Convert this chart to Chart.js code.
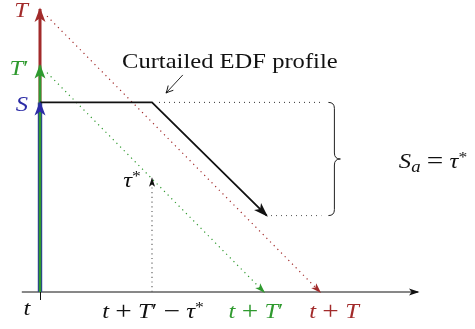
<!DOCTYPE html>
<html>
<head>
<meta charset="utf-8">
<script src="https://cdn.jsdelivr.net/npm/chart.js@4/dist/chart.umd.min.js"></script>
<style>
  html, body { margin: 0; padding: 0; background: #fff; }
  canvas { display: block; }
</style>
</head>
<body>
<canvas id="c" width="475" height="329"></canvas>
<script>
// ---- Quantities of the scheduling diagram (time / slack units) ----
const horizonT = 10;        // T
const horizonTp = 8;        // T'
const slackS = 6.7;         // S
const tauStar = 4;          // tau*

// Curtailed EDF profile: flat at S, then falling with slope -1
const profileX = [0, 4, 8.1];
const profileY = [slackS, slackS, slackS - tauStar];

// Deadline diagonals (start just off the vertical axis)
const redDiagX = [0.25, horizonT];
const redDiagY = [horizonT - 0.25, 0];
const greenDiagX = [0.25, horizonTp];
const greenDiagY = [horizonTp - 0.25, 0];

// Dotted guides bounding S_a
const guideTopX = [4.25, 10.05];
const guideBotX = [8.25, 10.05];

// tau* marker placed at t + T' - tau*
const tauX = [horizonTp - tauStar, horizonTp - tauStar];
const tauY = [0, tauStar];

// Time axis extent
const axisX = [-0.65, 13.5];

// Callout arrow for the profile label
const calloutX = [5.1, 4.5];
const calloutY = [7.67, 7.03];

const RED = '#a22b2b', GREEN = '#2f9a2f', BLUE = '#2b2ba6', BLACK = '#111';

const pts = (xs, ys) => xs.map((x, i) => ({ x, y: ys[i] }));
const line = (data, color, width, extra) => Object.assign({
  data, borderColor: color, backgroundColor: color, borderWidth: width,
  showLine: true, pointRadius: 0, pointHoverRadius: 0, fill: false,
  tension: 0, clip: false
}, extra || {});

// listed bottom-most first; Chart.js paints the first dataset on top, so reverse
const layers = [
  line(pts(axisX, [0, 0]), BLACK, 1, { arrow: { len: 9, wid: 7, color: BLACK } }),
  line(pts(redDiagX, redDiagY), RED, 1.2, { borderDash: [1.2, 4], arrow: { len: 9, wid: 7, color: RED } }),
  line(pts(greenDiagX, greenDiagY), GREEN, 1.2, { borderDash: [1.2, 4], arrow: { len: 9, wid: 7, color: GREEN } }),
  line(pts(guideTopX, [slackS, slackS]), '#333', 1, { borderDash: [1, 4] }),
  line(pts(guideBotX, [slackS - tauStar, slackS - tauStar]), '#555', 1, { borderDash: [1, 4] }),
  line(pts(tauX, tauY), '#666', 1.2, { borderDash: [1.2, 3.5], arrow: { len: 8, wid: 6, color: BLACK } }),
  line(pts([0, 0], [0, horizonT]), RED, 3, { arrow: { len: 13, wid: 11, color: RED } }),
  line(pts([0, 0], [0, slackS]), BLUE, 4.4, { arrow: { len: 13, wid: 11, color: BLUE } }),
  line(pts([0, 0], [0, horizonTp]), GREEN, 2.6, { arrow: { len: 13, wid: 11, color: GREEN } }),
  line(pts(profileX, profileY), BLACK, 1.8, { arrow: { len: 13, wid: 10, color: BLACK } }),
  line(pts(calloutX, calloutY), BLACK, 0.9, { arrow: { len: 7, wid: 7, color: BLACK, open: true } })
];
const datasets = layers.slice().reverse();

// pixel mapping: 28 px per unit horizontally, 28.3 px per unit vertically
const W = 475, H = 329, ox = 40, oy = 292, kx = 28, ky = 28.3;

function head(ctx, x, y, ang, a) {
  ctx.save();
  ctx.translate(x, y);
  ctx.rotate(ang);
  ctx.beginPath();
  if (a.open) {
    ctx.moveTo(-a.len, a.wid / 2);
    ctx.quadraticCurveTo(-a.len * 0.35, a.wid * 0.12, 0, 0);
    ctx.quadraticCurveTo(-a.len * 0.35, -a.wid * 0.12, -a.len, -a.wid / 2);
    ctx.strokeStyle = a.color; ctx.lineWidth = 0.9; ctx.stroke();
  } else {
    ctx.moveTo(1.5, 0);
    ctx.lineTo(-a.len, a.wid / 2);
    ctx.lineTo(-a.len * 0.72, 0);
    ctx.lineTo(-a.len, -a.wid / 2);
    ctx.closePath();
    ctx.fillStyle = a.color; ctx.fill();
  }
  ctx.restore();
}

const FAM = '"Liberation Serif", "DejaVu Serif", serif';
const SX = 1.17;            // horizontal widening of the serif face
function fontFor(kind, size) {
  if (kind === 'i') return `italic ${size}px ${FAM}`;
  if (kind === 'sup') return `${Math.round(size * 0.72)}px ${FAM}`;
  if (kind === 'sub') return `italic ${Math.round(size * 0.75)}px ${FAM}`;
  if (kind === 'op') return `${Math.round(size * 1.2)}px ${FAM}`;
  return `${size}px ${FAM}`;
}
// runs: [text, kind]; kind 'op' is a binary operator with math spacing
function drawMath(ctx, runs, cx, base, color, size, align) {
  const gap = size * 0.3;
  let total = 0;
  const widths = runs.map(([t, k]) => {
    ctx.font = fontFor(k, size);
    let w = ctx.measureText(t).width * SX;
    if (k === 'op') w += 2 * gap;
    total += w;
    return w;
  });
  let x = align === 'left' ? cx : cx - total / 2;
  ctx.fillStyle = color;
  ctx.textBaseline = 'alphabetic';
  ctx.textAlign = 'left';
  runs.forEach(([t, k], i) => {
    ctx.font = fontFor(k, size);
    let dy = 0;
    if (k === 'sup') dy = -size * 0.3;
    if (k === 'sub') dy = size * 0.2;
    if (k === 'op') dy = size * 0.06;
    ctx.save();
    ctx.translate(x + (k === 'op' ? gap : 0), base + dy);
    ctx.scale(SX, 1);
    ctx.fillText(t, 0, 0);
    ctx.restore();
    x += widths[i];
  });
}

const decor = {
  id: 'decor',
  afterDatasetsDraw(chart) {
    const ctx = chart.ctx;
    const xs = chart.scales.x, ys = chart.scales.y;
    // arrowheads at the end of each arrowed polyline
    chart.data.datasets.slice().reverse().forEach((ds) => {
      if (!ds.arrow) return;
      const idx = chart.data.datasets.indexOf(ds);
      const el = chart.getDatasetMeta(idx).data;
      const p1 = el[el.length - 1], p0 = el[el.length - 2];
      head(ctx, p1.x, p1.y, Math.atan2(p1.y - p0.y, p1.x - p0.x), ds.arrow);
    });
    // tick at t
    const tx = xs.getPixelForValue(0), ty = ys.getPixelForValue(0);
    ctx.save();
    ctx.strokeStyle = BLACK; ctx.lineWidth = 1;
    ctx.beginPath(); ctx.moveTo(tx + 0.5, ty); ctx.lineTo(tx + 0.5, ty + 8); ctx.stroke();

    // brace spanning S_a
    const bx = xs.getPixelForValue(10.3);
    const y1 = ys.getPixelForValue(slackS), y2 = ys.getPixelForValue(slackS - tauStar);
    const m = (y1 + y2) / 2, a = 12;
    ctx.beginPath();
    ctx.moveTo(bx, y1);
    ctx.quadraticCurveTo(bx + a / 2, y1, bx + a / 2, y1 + a / 2);
    ctx.lineTo(bx + a / 2, m - a / 2);
    ctx.quadraticCurveTo(bx + a / 2, m, bx + a, m);
    ctx.quadraticCurveTo(bx + a / 2, m, bx + a / 2, m + a / 2);
    ctx.lineTo(bx + a / 2, y2 - a / 2);
    ctx.quadraticCurveTo(bx + a / 2, y2, bx, y2);
    ctx.lineWidth = 1; ctx.strokeStyle = '#222'; ctx.stroke();
    ctx.restore();

    // labels
    const fs = 21;
    drawMath(ctx, [['T', 'i']], 21, 17, RED, fs);
    drawMath(ctx, [['T', 'i'], ['\u2032', 'r']], 19, 75, GREEN, fs);
    drawMath(ctx, [['S', 'i']], 22, 111, BLUE, fs);
    drawMath(ctx, [['\u03C4', 'i'], ['*', 'sup']], 132, 187, BLACK, fs);
    drawMath(ctx, [['t', 'i']], 27, 315, BLACK, fs);
    drawMath(ctx, [['t', 'i'], ['+', 'op'], ['T', 'i'], ['\u2032', 'r'], ['\u2212', 'op'], ['\u03C4', 'i'], ['*', 'sup']], 153, 318, BLACK, fs);
    drawMath(ctx, [['t', 'i'], ['+', 'op'], ['T', 'i'], ['\u2032', 'r']], 256, 318, GREEN, fs);
    drawMath(ctx, [['t', 'i'], ['+', 'op'], ['T', 'i']], 334, 318, RED, fs);
    drawMath(ctx, [['S', 'i'], ['a', 'sub'], ['=', 'op'], ['\u03C4', 'i'], ['*', 'sup']], 433, 168, BLACK, fs);
    drawMath(ctx, [['Curtailed EDF profile', 'r']], 122, 68, BLACK, fs, 'left');
  }
};

new Chart(document.getElementById('c'), {
  type: 'scatter',
  data: { datasets },
  options: {
    responsive: false,
    animation: false,
    devicePixelRatio: 1,
    layout: { padding: 0 },
    plugins: { legend: { display: false }, tooltip: { enabled: false } },
    events: [],
    scales: {
      x: { type: 'linear', display: false, min: -ox / kx, max: (W - ox) / kx },
      y: { type: 'linear', display: false, min: -(H - oy) / ky, max: oy / ky }
    }
  },
  plugins: [decor]
});
</script>
</body>
</html>
